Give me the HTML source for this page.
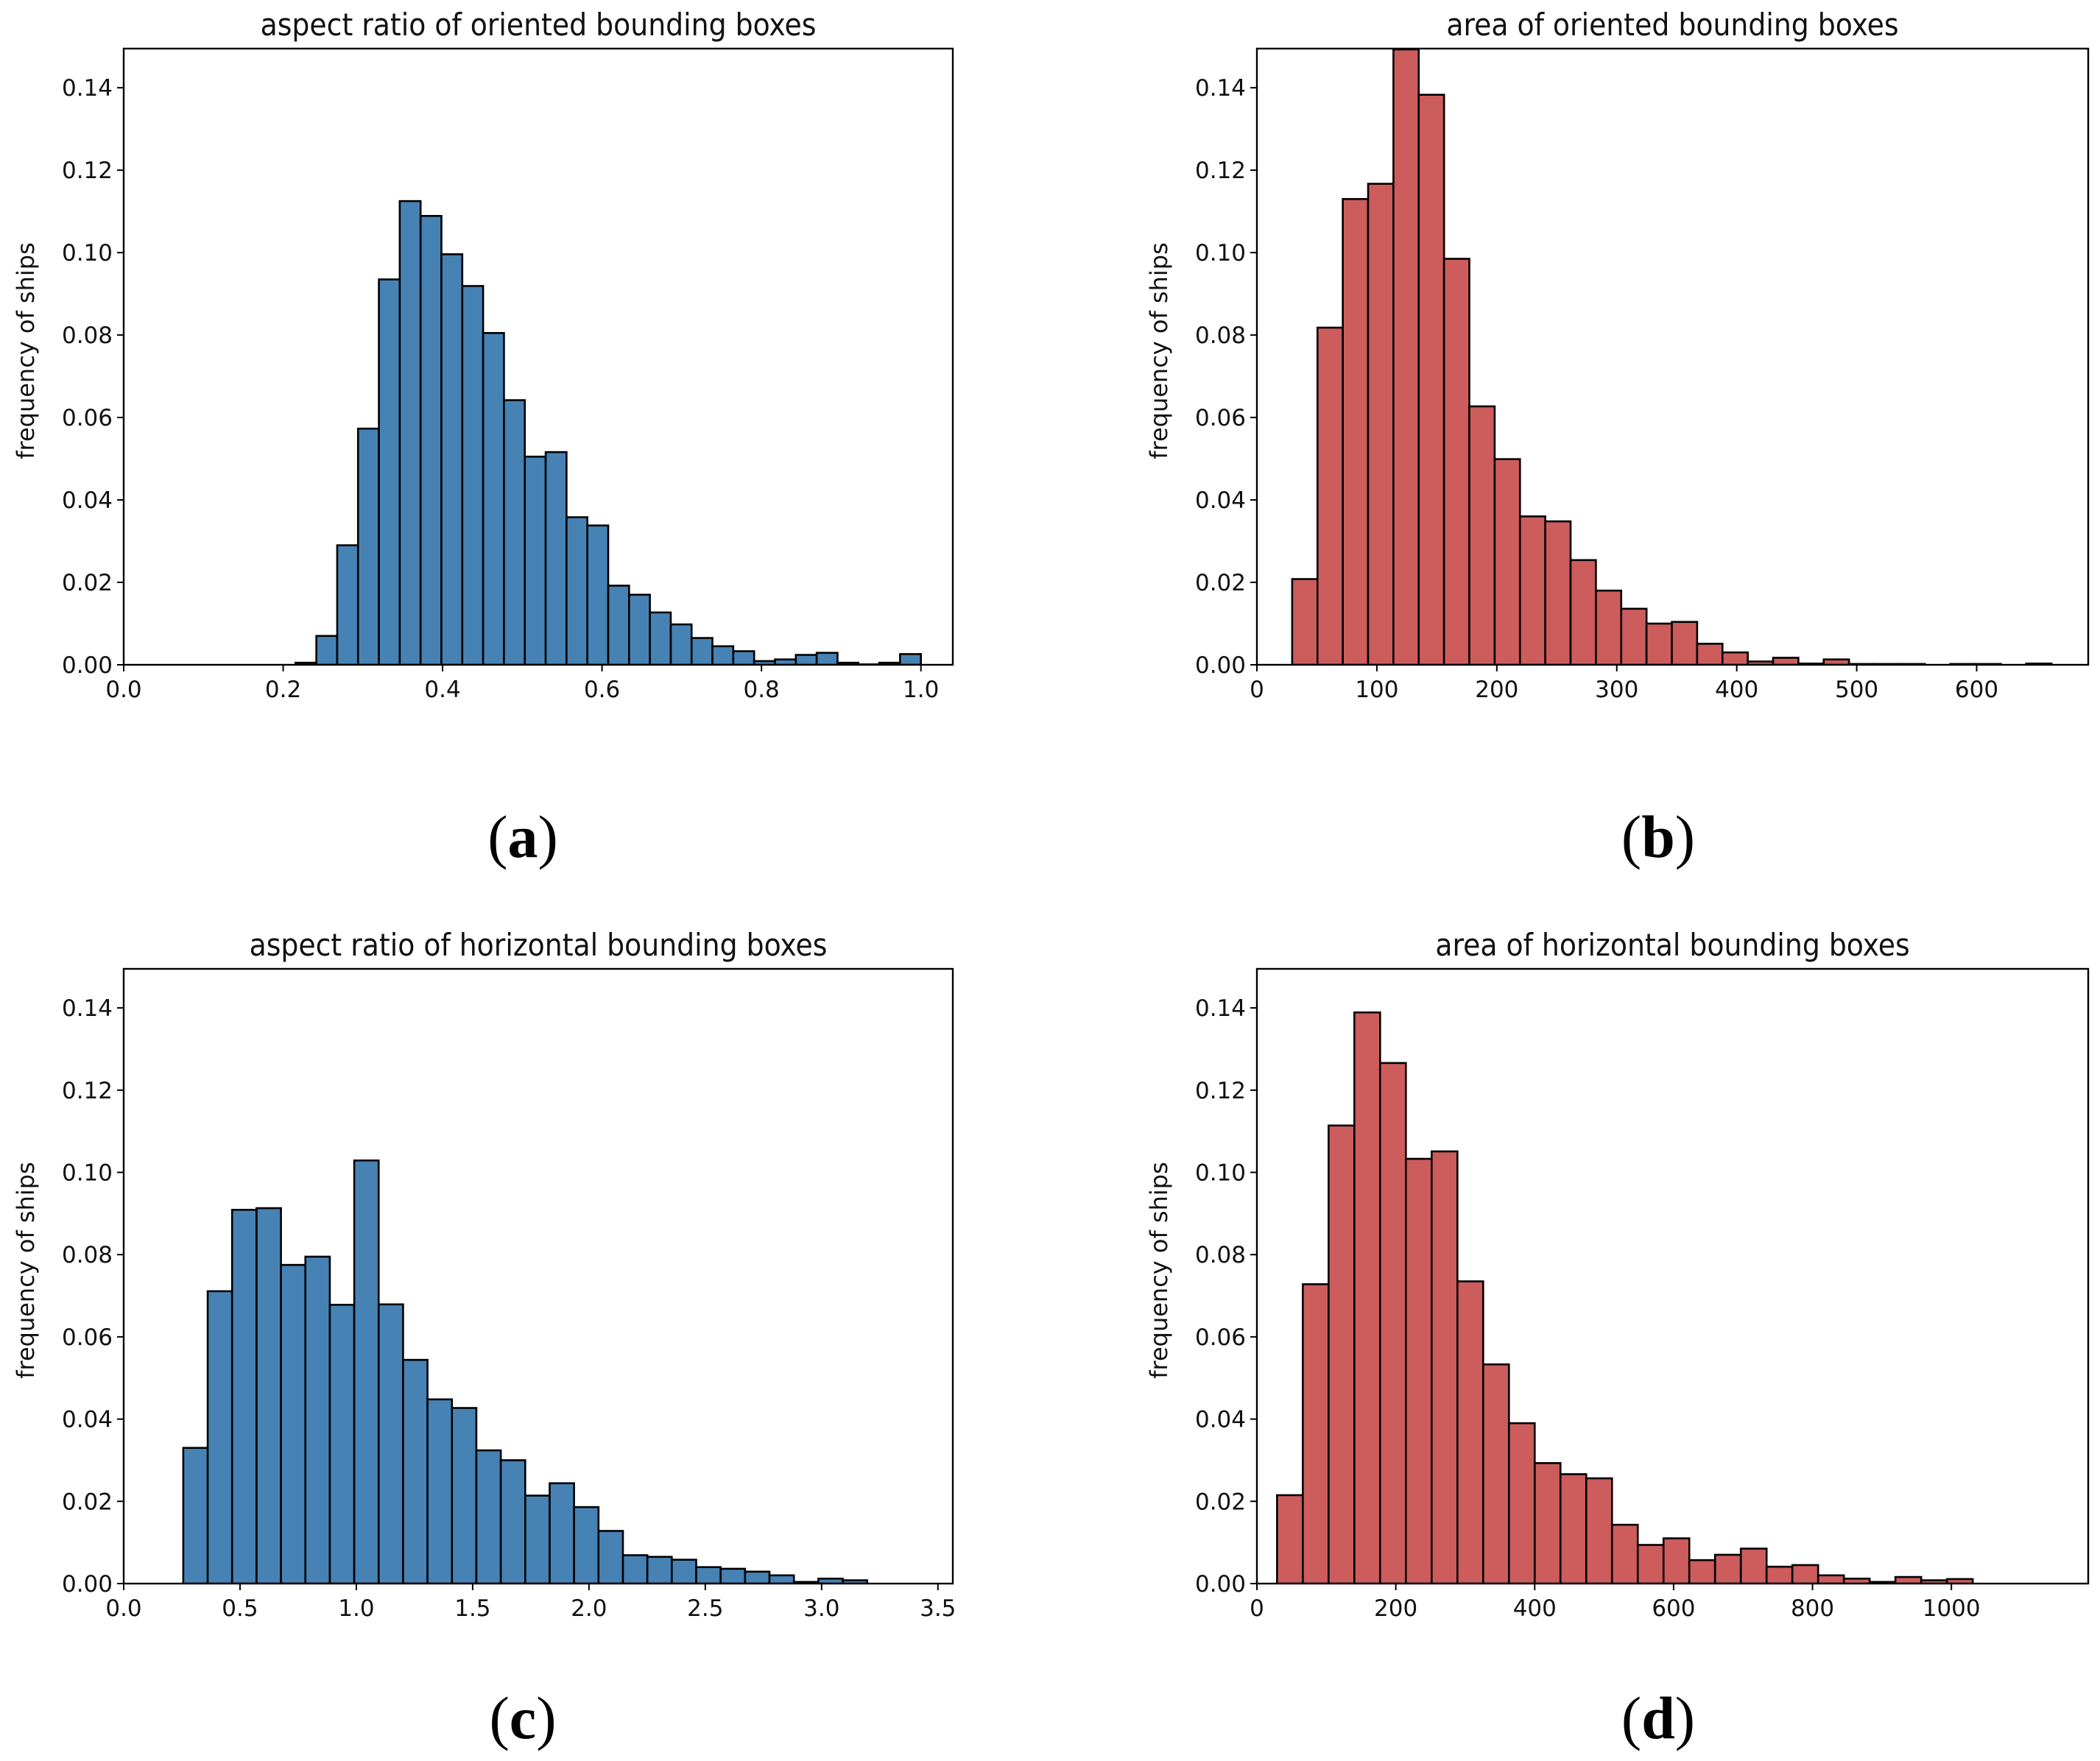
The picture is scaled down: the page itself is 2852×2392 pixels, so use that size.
<!DOCTYPE html>
<html><head><meta charset="utf-8"><style>
html,body{margin:0;padding:0;background:#fff;width:2852px;height:2392px;overflow:hidden}
svg{display:block}
</style></head><body>
<svg id="fig" width="2852" height="2392" viewBox="0 0 2852 2392" xmlns="http://www.w3.org/2000/svg"></svg>
<script>
// Panel (a): aspect ratio of oriented bounding boxes
const aStart = 0.2155, aWidth = 0.02615;
const aValues = [0.0005,0.007,0.029,0.0573,0.0935,0.1125,0.1089,0.0996,0.0919,0.0805,0.0642,0.0505,0.0516,0.0358,0.0338,0.0192,0.0170,0.0127,0.0098,0.0065,0.0045,0.0033,0.0009,0.0013,0.0024,0.0029,0.0005,0.0001,0.0005,0.0026];
const aXTicks = [0.0,0.2,0.4,0.6,0.8,1.0];
const aXTickLabels = ["0.0","0.2","0.4","0.6","0.8","1.0"];
// Panel (b): area of oriented bounding boxes
const bStart = 29.4, bWidth = 21.1;
const bValues = [0.0208,0.0818,0.1130,0.1167,0.1493,0.1383,0.0985,0.0627,0.0499,0.0360,0.0348,0.0254,0.0180,0.0136,0.0100,0.0104,0.0051,0.0030,0.0008,0.0017,0.0003,0.0013,0.0002,0.0002,0.0002,0,0.0002,0.0002,0,0.0003];
const bXTicks = [0,100,200,300,400,500,600];
const bXTickLabels = ["0","100","200","300","400","500","600"];
// Panel (c): aspect ratio of horizontal bounding boxes
const cStart = 0.256, cWidth = 0.105;
const cValues = [0.033,0.0711,0.0909,0.0913,0.0775,0.0795,0.0678,0.1029,0.0679,0.0544,0.0448,0.0427,0.0324,0.0300,0.0214,0.0244,0.0186,0.0128,0.0069,0.0065,0.0058,0.0040,0.0036,0.0029,0.0020,0.0004,0.0012,0.0008,0,0];
const cXTicks = [0,0.5,1.0,1.5,2.0,2.5,3.0,3.5];
const cXTickLabels = ["0.0","0.5","1.0","1.5","2.0","2.5","3.0","3.5"];
// Panel (d): area of horizontal bounding boxes
const dStart = 29, dWidth = 37.1;
const dValues = [0.0215,0.0728,0.1114,0.1389,0.1266,0.1033,0.1051,0.0735,0.0533,0.0390,0.0293,0.0266,0.0256,0.0143,0.0094,0.0110,0.0057,0.0070,0.0085,0.0041,0.0045,0.0020,0.0012,0.0004,0.0016,0.0008,0.0011,0,0,0];
const dXTicks = [0,200,400,600,800,1000];
const dXTickLabels = ["0","200","400","600","800","1000"];
// shared y axis
const yTicks = [0,0.02,0.04,0.06,0.08,0.10,0.12,0.14];
const yTickLabels = ["0.00","0.02","0.04","0.06","0.08","0.10","0.12","0.14"];

const NS = "http://www.w3.org/2000/svg";
const svg = document.getElementById('fig');
function mk(tag, attrs, parent){
  const e = document.createElementNS(NS, tag);
  for (const k in attrs) e.setAttribute(k, attrs[k]);
  (parent||svg).appendChild(e);
  return e;
}
function panel(key, box, xmax, ymax, start, width, values, xt, xtl, color, title, label, labelPos){
  const g = mk('g', {});
  
  
  const xs = v => box.x0 + (v - 0) / xmax * (box.x1 - box.x0);
  const ys = v => box.y1 - v / ymax * (box.y1 - box.y0);
  const clipId = 'clip' + key;
  const cp = mk('clipPath', {id: clipId}, g);
  mk('rect', {x: box.x0, y: box.y0, width: box.x1 - box.x0, height: box.y1 - box.y0}, cp);
  const bars = mk('g', {'clip-path': 'url(#' + clipId + ')'}, g);
  values.forEach((v, i) => {
    const xa = xs(start + i * width), xb = xs(start + (i + 1) * width);
    const r = mk('rect', {x: xa, y: ys(v), width: xb - xa, height: Math.max(0, ys(0) - ys(v)), fill: color, stroke: '#000', 'stroke-width': 2.6}, bars);
    
    
  });
  const frame = mk('rect', {x: box.x0, y: box.y0, width: box.x1 - box.x0, height: box.y1 - box.y0, fill: 'none', stroke: '#000', 'stroke-width': 2.4}, g);
  
  
  xt.forEach((t, i) => {
    const x = xs(t);
    mk('line', {x1: x, x2: x, y1: box.y1, y2: box.y1 + 9, stroke: '#000', 'stroke-width': 2}, g);
    const tx = mk('text', {x: x, y: box.y1 + 44, 'text-anchor': 'middle', 'font-size': 31, 'font-family': 'DejaVu Sans, Liberation Sans, sans-serif', fill: '#111'}, g);
    tx.textContent = xtl[i];
    
    
  });
  yTicks.forEach((t, i) => {
    const y = ys(t);
    mk('line', {x1: box.x0 - 9, x2: box.x0, y1: y, y2: y, stroke: '#000', 'stroke-width': 2}, g);
    const ty = mk('text', {x: box.x0 - 15, y: y + 11, 'text-anchor': 'end', 'font-size': 31, 'font-family': 'DejaVu Sans, Liberation Sans, sans-serif', fill: '#111'}, g);
    ty.textContent = yTickLabels[i];
    
    
  });
  const yl = mk('text', {x: 0, y: 0, transform: 'translate(' + (box.x0 - 122) + ',' + ((box.y0 + box.y1) / 2 - 8) + ') rotate(-90)', 'text-anchor': 'middle', 'font-size': 32, 'font-family': 'DejaVu Sans, Liberation Sans, sans-serif', fill: '#111'}, g);
  yl.textContent = 'frequency of ships';
  
  
  const tt = mk('text', {x: (box.x0 + box.x1) / 2, y: box.y0 - 18, 'text-anchor': 'middle', 'font-size': 42, 'font-family': 'DejaVu Sans Condensed, DejaVu Sans, Liberation Sans, sans-serif', fill: '#111'}, g);
  tt.textContent = title;
  
  
  const lb = mk('text', {x: labelPos[0], y: labelPos[1], 'text-anchor': 'middle', 'font-size': 82, 'font-family': 'Liberation Serif, serif', fill: '#000'}, g);
  lb.innerHTML = '(<tspan font-weight="bold">' + label + '</tspan>)';
  
  
}
const ymax = 0.1495;
panel('a', {x0:168, x1:1294, y0:66, y1:903}, 1.04, ymax, aStart, aWidth, aValues, aXTicks, aXTickLabels, '#4682b4', 'aspect ratio of oriented bounding boxes', 'a', [710, 1164]);
panel('b', {x0:1707, x1:2836, y0:66, y1:903}, 693, ymax, bStart, bWidth, bValues, bXTicks, bXTickLabels, '#cd5c5c', 'area of oriented bounding boxes', 'b', [2252, 1164]);
panel('c', {x0:168, x1:1294, y0:1316, y1:2151}, 3.564, ymax, cStart, cWidth, cValues, cXTicks, cXTickLabels, '#4682b4', 'aspect ratio of horizontal bounding boxes', 'c', [710, 2361]);
panel('d', {x0:1707, x1:2836, y0:1316, y1:2151}, 1197, ymax, dStart, dWidth, dValues, dXTicks, dXTickLabels, '#cd5c5c', 'area of horizontal bounding boxes', 'd', [2252, 2361]);
</script>
</body></html>
